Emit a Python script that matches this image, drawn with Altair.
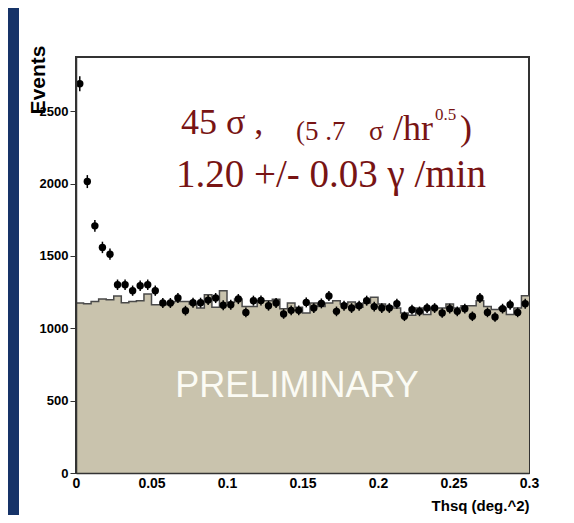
import altair as alt
import pandas as pd
import numpy as np

# ---------------- data ----------------
bin_width = 0.005
bin_lo = [round(i * bin_width, 4) for i in range(60)]

# observed counts (black points)
obs = [2690, 2014, 1708, 1559, 1512, 1301, 1301, 1260, 1294, 1301,
       1260, 1175, 1175, 1209, 1122, 1177, 1177, 1195, 1209, 1159,
       1163, 1202, 1110, 1191, 1193, 1156, 1175, 1099, 1124, 1124,
       1179, 1140, 1172, 1223, 1117, 1156, 1140, 1156, 1191, 1150,
       1140, 1140, 1170, 1083, 1129, 1117, 1140, 1140, 1106, 1136,
       1117, 1136, 1083, 1209, 1110, 1078, 1136, 1163, 1110, 1170]

# background histogram (tan filled)
bkg = [1175, 1170, 1186, 1202, 1197, 1223, 1177, 1186, 1190, 1237,
       1163, 1163, 1175, 1186, 1186, 1168, 1140, 1232, 1145, 1260,
       1180, 1202, 1150, 1150, 1191, 1191, 1200, 1136, 1175, 1145,
       1106, 1175, 1150, 1175, 1191, 1168, 1182, 1145, 1175, 1214,
       1168, 1150, 1140, 1106, 1090, 1140, 1095, 1140, 1140, 1168,
       1140, 1156, 1156, 1191, 1150, 1130, 1140, 1095, 1140, 1225]

x_ticks = [0, 0.05, 0.1, 0.15, 0.2, 0.25, 0.3]
y_ticks = [0, 500, 1000, 1500, 2000, 2500]

# annotation texts (data coordinates)
ann_text = ["45 \u03c3 ,", "(5 .7", "\u03c3", "/hr", "0.5", ")",
            "1.20 +/- 0.03 \u03b3 /min"]
ann_x = [0.0695, 0.1457, 0.1940, 0.2100, 0.2377, 0.2543, 0.0662]
ann_y = [2341, 2299, 2299, 2299, 2437, 2299, 1974]
ann_size = [36, 27, 27, 36, 17, 36, 39]

prelim_text = ["PRELIMINARY"]
prelim_x = [0.1464]
prelim_y = [525]

# ---------------- styles ----------------
W, H = 453, 416
NAVY = "#163368"
TAN = "#c9c3ad"
DARKRED = "#781414"
SANS = "Liberation Sans"
SERIF = "Liberation Serif"

obs_arr = np.array(obs, dtype=float)
err = np.sqrt(obs_arr)
df_pts = pd.DataFrame({
    "x": [b + bin_width / 2 for b in bin_lo],
    "y": obs_arr,
    "lo": obs_arr - err,
    "hi": obs_arr + err,
})
df_hist = pd.DataFrame({"x": bin_lo + [0.3], "y": bkg + [bkg[-1]]})
df_ann = pd.DataFrame({"t": ann_text, "x": ann_x, "y": ann_y, "s": ann_size})
df_pre = pd.DataFrame({"t": prelim_text, "x": prelim_x, "y": prelim_y})

xscale = alt.Scale(domain=[0, 0.3], nice=False, zero=False)
yscale = alt.Scale(domain=[0, 2875], nice=False)

xaxis = alt.Axis(
    values=x_ticks, format=".2~f", labelFlush=False, labelOverlap=False,
    labelFont=SANS, labelFontWeight="bold", labelFontSize=14, labelColor="black",
    labelPadding=3, tickSize=0, domainColor="#333", domainWidth=1.5,
    title="Thsq (deg.^2)", titleAnchor="end", titleAlign="right",
    titleFont=SANS, titleFontWeight="bold", titleFontSize=15, titleColor="black",
    titlePadding=8, grid=False, zindex=1,
)
yaxis = alt.Axis(
    values=y_ticks, format="d", labelOverlap=False, labelFlush=False,
    tickSize=6, tickColor="#333", tickWidth=1,
    labelFont=SANS, labelFontWeight="bold", labelFontSize=13, labelColor="black",
    labelPadding=2, domainColor="#333", domainWidth=1.5,
    title="Events", titleFont=SANS, titleFontWeight="bold", titleFontSize=21,
    titleColor="black", titleAngle=270, titleAlign="right", titleBaseline="middle",
    titleX=-38, titleY=-12, grid=False, zindex=1,
)

base_x = alt.X("x:Q", scale=xscale, axis=xaxis)

hist = alt.Chart(df_hist).mark_area(
    interpolate="step-after", color=TAN, opacity=1, fillOpacity=1,
    line={"color": "#4a4a4a", "strokeWidth": 1.5},
).encode(
    x=base_x,
    y=alt.Y("y:Q", scale=yscale, axis=yaxis),
)

errbars = alt.Chart(df_pts).mark_rule(color="black", strokeWidth=1.5).encode(
    x="x:Q", y="lo:Q", y2="hi:Q",
)

points = alt.Chart(df_pts).mark_circle(color="black", size=55, opacity=1).encode(
    x="x:Q", y="y:Q",
)

ann = alt.Chart(df_ann).mark_text(
    font=SERIF, color=DARKRED, align="left", baseline="alphabetic",
).encode(
    x="x:Q", y="y:Q", text="t:N", size=alt.Size("s:Q", scale=None, legend=None),
)

prelim = alt.Chart(df_pre).mark_text(
    font=SANS, color="#fbfbf4", fontSize=36, align="center", baseline="alphabetic",
).encode(x="x:Q", y="y:Q", text="t:N")

# navy slide border on the left (decoration)
band = alt.Chart(pd.DataFrame({"d": [0]})).mark_rect(color=NAVY).encode(
    x=alt.value(-68), x2=alt.value(-57), y=alt.value(-49), y2=alt.value(458),
)

chart = alt.layer(band, hist, errbars, points, ann, prelim).properties(
    width=W, height=H,
    padding={"left": 0, "top": 0, "right": 10, "bottom": 0},
    background="white",
).configure_view(stroke="#333", strokeWidth=2)

chart.save("out.html", embed_options={"renderer": "svg", "actions": False})
